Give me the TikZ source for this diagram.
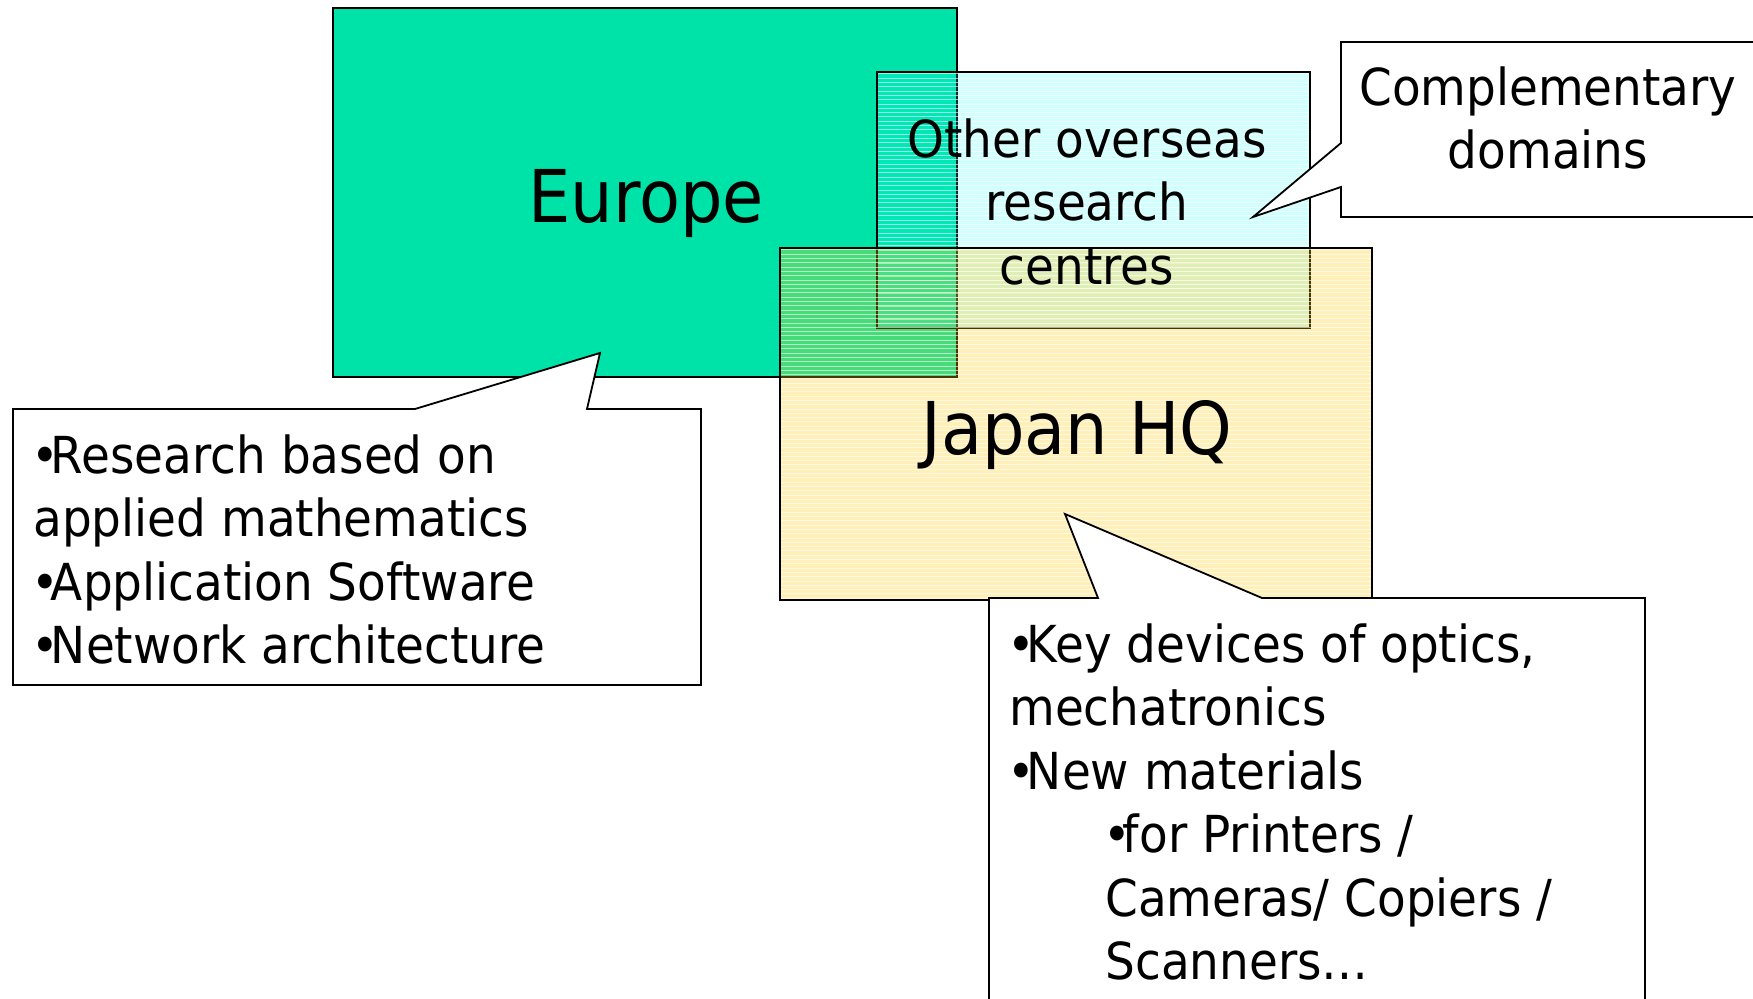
\documentclass[tikz,border=0pt]{standalone}
\usepackage{fontspec}
\setmainfont{DejaVu Sans}[FakeStretch=0.92]
\definecolor{europe}{RGB}{0,227,168}
\definecolor{otherc}{RGB}{0,255,245}
\definecolor{japanc}{RGB}{255,200,0}
\newcommand\mybul{\kern-0.04em•\kern-0.16em}
\tikzset{
  box/.style={draw=black, line width=0.9pt},
  callout/.style={draw=black, fill=white, line width=0.9pt, line join=miter},
  stripe/.style={white, opacity=0.6, line width=0.5pt},
  bigtxt/.style={font=\fontsize{36.4}{44}\selectfont, inner sep=0pt},
  smalltxt/.style={font=\fontsize{25.5}{31.75}\selectfont, inner sep=0pt}
}
\begin{document}
\begin{tikzpicture}[x=0.5pt,y=-0.5pt]
\clip (0,0) rectangle (1753,999);
\fill[white] (0,0) rectangle (1753,999);
% Europe
\draw[box, fill=europe] (333,8) rectangle (957,377);
% Other overseas research centres
\fill[otherc, fill opacity=0.18] (877,72) rectangle (1310,328);
\begin{scope}
  \clip (877,72) rectangle (1310,328);
  \foreach \k in {0,...,60} \draw[stripe] (877,74+\k*4.3) -- (1310,74+\k*4.3);
\end{scope}
\draw[box] (877,72) rectangle (1310,328);
% Japan HQ
\fill[japanc, fill opacity=0.28] (780,248) rectangle (1372,600);
\begin{scope}
  \clip (780,248) rectangle (1372,600);
  \foreach \k in {0,...,82} \draw[stripe] (780,250+\k*4.3) -- (1372,250+\k*4.3);
\end{scope}
\draw[box] (780,248) rectangle (1372,600);
% callouts
\draw[callout] (13,409) -- (415,409) -- (600,353) -- (587,409) -- (701,409) -- (701,685) -- (13,685) -- cycle;
\draw[callout] (989,598) -- (1098,598) -- (1065,514) -- (1262,598) -- (1645,598) -- (1645,1010) -- (989,1010) -- cycle;
\draw[callout] (1341,42) -- (1770,42) -- (1770,217) -- (1341,217) -- (1341,187) -- (1253,217) -- (1341,143) -- cycle;
% texts
\node[bigtxt, anchor=base] (europe) at (646,223) {Europe};
\node[bigtxt, anchor=base] (japan) at (1077,455) {Japan HQ};
\node[smalltxt, anchor=north, align=center] (other) at (1087,112.5) {\strut Other overseas\\research\\centres};
\node[smalltxt, anchor=north, align=center] (compl) at (1548,60.5) {\strut Complementary\\domains};
\node[smalltxt, anchor=north west, align=left] (eutxt) at (33,428.5) {\strut\mybul Research based on\\applied mathematics\\\mybul Application Software\\\mybul Network architecture};
\node[smalltxt, anchor=north west, align=left] (jptxt) at (1009,617.5) {\strut\mybul Key devices of optics,\\mechatronics\\\mybul New materials\\\hspace*{48pt}\mybul for Printers /\\\hspace*{48pt}Cameras/ Copiers /\\\hspace*{48pt}Scanners…};
\end{tikzpicture}
\end{document}
